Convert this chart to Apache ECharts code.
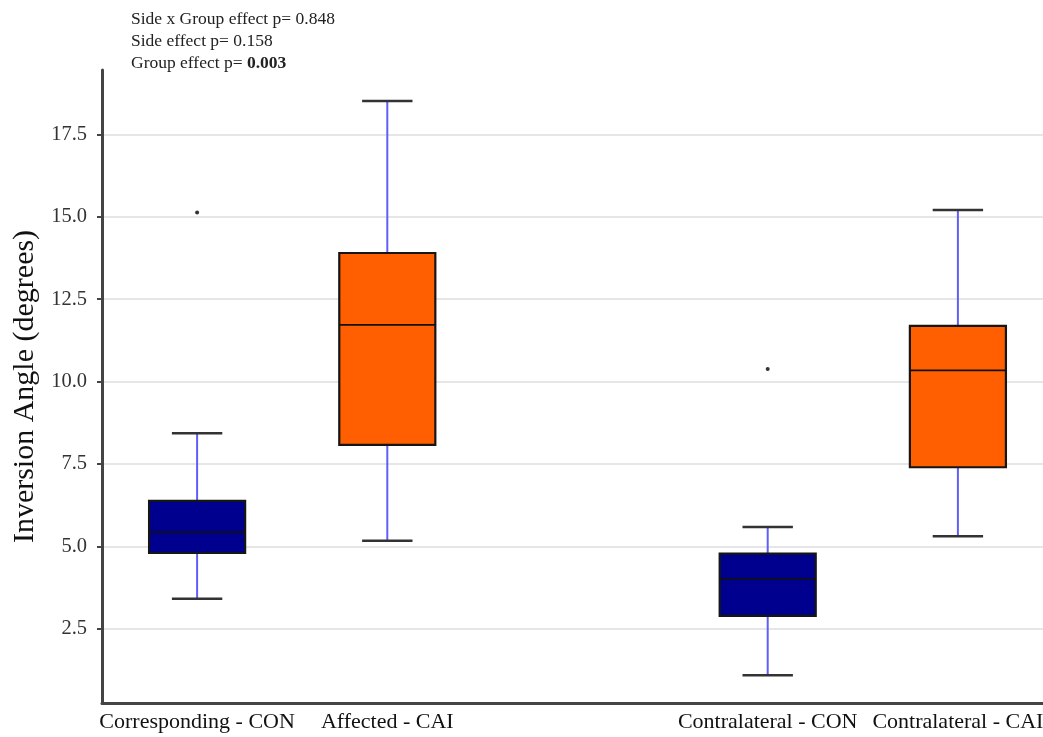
<!DOCTYPE html>
<html>
<head>
<meta charset="utf-8">
<script src="https://cdn.jsdelivr.net/npm/echarts@6/dist/echarts.min.js"></script>
<style>html,body{margin:0;padding:0;background:#fff;overflow:hidden;width:1043px;height:737px}#c{width:1060px;height:737px}</style>
</head>
<body>
<div id="c"></div>
<script>
// ---- data ----
const categories = ['Corresponding - CON', 'Affected - CAI', '', 'Contralateral - CON', 'Contralateral - CAI'];
const groups = ['CON', 'CAI', '', 'CON', 'CAI'];
// [min, q1, median, q3, max]
const boxCorrespondingCON = [3.41, 4.80, 5.43, 6.38, 8.43];
const boxAffectedCAI = [5.17, 8.08, 11.72, 13.90, 18.51];
const boxContralateralCON = [1.09, 2.89, 4.01, 4.78, 5.59];
const boxContralateralCAI = [5.31, 7.40, 10.34, 11.69, 15.20];
const outliers = [[0, 15.13], [3, 10.38]];
const yTicks = [2.5, 5.0, 7.5, 10.0, 12.5, 15.0, 17.5];
const annotationLines = ['Side x Group effect p= 0.848', 'Side effect p= 0.158', 'Group effect p= '];
const annotationBold = '0.003';

const groupColors = { CON: '#00008f', CAI: '#ff5f00' };
const boxes = [
  [0].concat(boxCorrespondingCON),
  [1].concat(boxAffectedCAI),
  [3].concat(boxContralateralCON),
  [4].concat(boxContralateralCAI)
];

const FONT = '"Liberation Serif", "DejaVu Serif", serif';
const chart = echarts.init(document.getElementById('c'), null, { renderer: 'canvas' });

chart.setOption({
  backgroundColor: '#ffffff',
  animation: false,
  title: {
    left: 131, top: 8, padding: 0,
    text: annotationLines[0] + '\n' + annotationLines[1] + '\n' + annotationLines[2] + '{b|' + annotationBold + '}',
    textStyle: {
      fontFamily: FONT, fontSize: 17.5, fontWeight: 'normal', color: '#222', lineHeight: 22,
      rich: { b: { fontFamily: FONT, fontSize: 17.5, fontWeight: 'bold', color: '#222', lineHeight: 22 } }
    }
  },
  grid: { left: 102, top: 70, width: 951, bottom: 34, containLabel: false },
  xAxis: {
    type: 'category',
    data: categories,
    boundaryGap: true,
    axisLine: { lineStyle: { color: '#444', width: 3 } },
    axisTick: { alignWithLabel: true, length: 5, lineStyle: { color: '#444', width: 2 },
      interval: function (idx, val) { return val !== ''; } },
    axisLabel: { interval: 0, fontFamily: FONT, fontSize: 22, color: '#111', margin: 8 },
    splitLine: { show: false }
  },
  yAxis: {
    type: 'value',
    min: 0.25, max: 19.45,
    name: 'Inversion Angle (degrees)',
    nameLocation: 'middle',
    nameGap: 56,
    nameTextStyle: { fontFamily: FONT, fontSize: 30, color: '#111' },
    axisLine: { show: true, lineStyle: { color: '#444', width: 3 } },
    axisTick: { show: true, length: 5, customValues: yTicks, lineStyle: { color: '#444', width: 2 } },
    axisLabel: { customValues: yTicks, fontFamily: FONT, fontSize: 20.5, color: '#333', margin: 15,
      formatter: function (v) { return v.toFixed(1); } },
    splitLine: { show: true, lineStyle: { color: '#dedede', width: 1.5 } }
  },
  series: [
    {
      type: 'custom',
      data: boxes,
      encode: { x: 0, y: [1, 2, 3, 4, 5] },
      renderItem: function (params, api) {
        const xi = api.value(0);
        const pLo = api.coord([xi, api.value(1)]);
        const pQ1 = api.coord([xi, api.value(2)]);
        const pMed = api.coord([xi, api.value(3)]);
        const pQ3 = api.coord([xi, api.value(4)]);
        const pHi = api.coord([xi, api.value(5)]);
        const band = api.size([1, 0])[0];
        const bw = band * 0.505;
        const cw = band * 0.265;
        const cx = pLo[0];
        const fill = groupColors[groups[xi]];
        const whisker = { stroke: '#5f5ff8', lineWidth: 2 };
        const cap = { stroke: '#333', lineWidth: 2.5 };
        return {
          type: 'group',
          children: [
            { type: 'line', shape: { x1: cx, y1: pHi[1], x2: cx, y2: pQ3[1] }, style: whisker },
            { type: 'line', shape: { x1: cx, y1: pQ1[1], x2: cx, y2: pLo[1] }, style: whisker },
            { type: 'line', shape: { x1: cx - cw / 2, y1: pHi[1], x2: cx + cw / 2, y2: pHi[1] }, style: cap },
            { type: 'line', shape: { x1: cx - cw / 2, y1: pLo[1], x2: cx + cw / 2, y2: pLo[1] }, style: cap },
            { type: 'rect', shape: { x: cx - bw / 2, y: pQ3[1], width: bw, height: pQ1[1] - pQ3[1] },
              style: { fill: fill, stroke: '#151515', lineWidth: 2.2 } },
            { type: 'line', shape: { x1: cx - bw / 2, y1: pMed[1], x2: cx + bw / 2, y2: pMed[1] },
              style: { stroke: '#111', lineWidth: 1.8 } }
          ]
        };
      },
      z: 3
    },
    {
      type: 'scatter',
      data: outliers,
      symbol: 'circle',
      symbolSize: 4,
      itemStyle: { color: '#000' },
      z: 4
    }
  ]
});
</script>
</body>
</html>
